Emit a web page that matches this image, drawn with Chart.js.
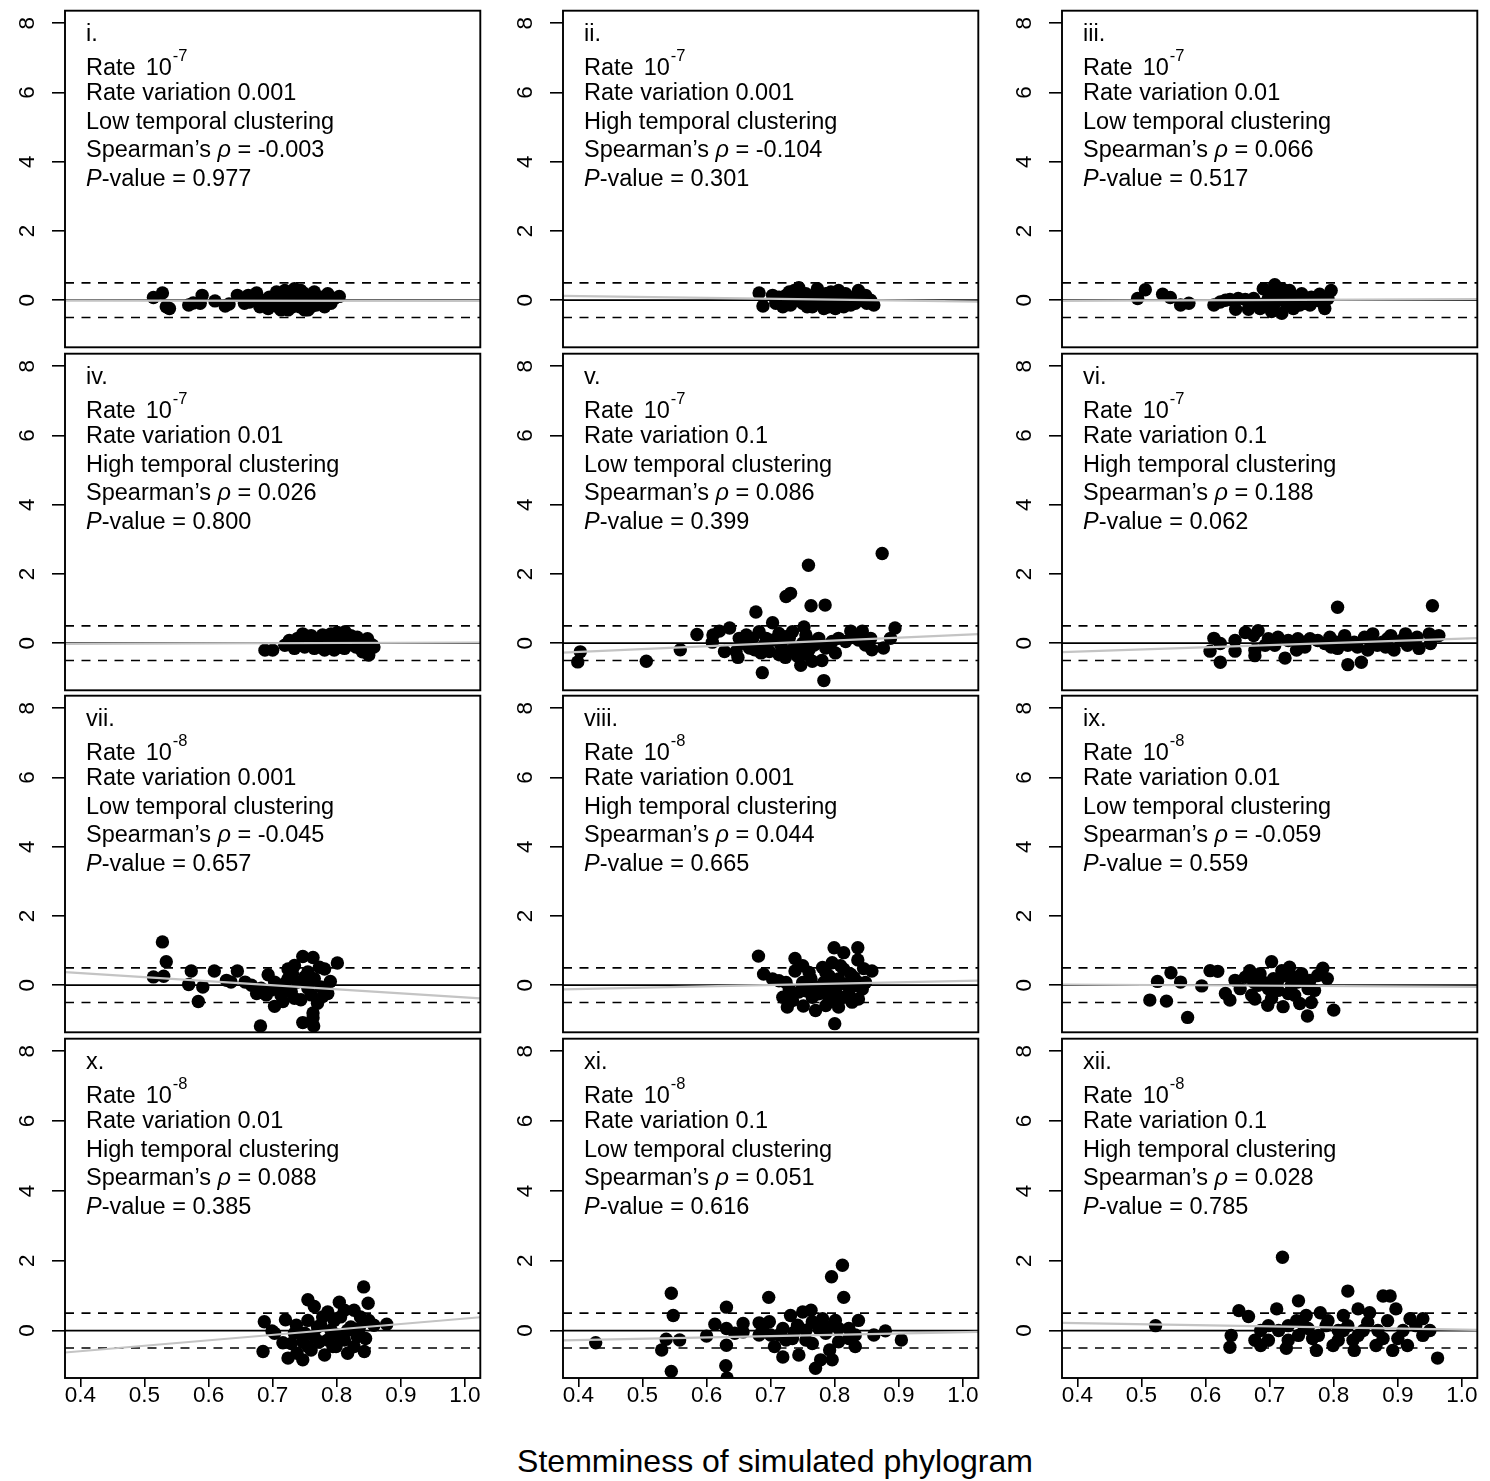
<!DOCTYPE html>
<html>
<head>
<meta charset="utf-8">
<script src="https://cdn.jsdelivr.net/npm/chart.js@4.4.0/dist/chart.umd.min.js"></script>
<style>
  body { margin: 0; background: #fff; }
  #wrap { position: relative; width: 1490px; height: 1481px; overflow: hidden; background: #fff; }
  #wrap canvas { position: absolute; }
  #xtitle { position: absolute; left: 275px; width: 1000px; top: 1442px; text-align: center;
            font: 32px "Liberation Sans", Arial, sans-serif; color: #000; line-height: 38px; }
</style>
</head>
<body>
<div id="wrap">
  <div id="xtitle">Stemminess of simulated phylogram</div>
</div>
<script>
// axis settings
const xTicks = [0.4, 0.5, 0.6, 0.7, 0.8, 0.9, 1.0];
const xTickLabels = ['0.4', '0.5', '0.6', '0.7', '0.8', '0.9', '1.0'];
const yTicks = [0, 2, 4, 6, 8];
const xRange = [0.376, 1.024];
const yRange = [-1.36, 8.36];
const refLevels = [0, 0.5, -0.5];

// panel labels
const panelIds = ['i.', 'ii.', 'iii.', 'iv.', 'v.', 'vi.', 'vii.', 'viii.', 'ix.', 'x.', 'xi.', 'xii.'];
const rateExp = ['-7', '-7', '-7', '-7', '-7', '-7', '-8', '-8', '-8', '-8', '-8', '-8'];
const rateVar = ['0.001', '0.001', '0.01', '0.01', '0.1', '0.1', '0.001', '0.001', '0.01', '0.01', '0.1', '0.1'];
const clustering = ['Low', 'High', 'Low', 'High', 'Low', 'High', 'Low', 'High', 'Low', 'High', 'Low', 'High'];
const rhoVals = ['-0.003', '-0.104', '0.066', '0.026', '0.086', '0.188', '-0.045', '0.044', '-0.059', '0.088', '0.051', '0.028'];
const pVals = ['0.977', '0.301', '0.517', '0.800', '0.399', '0.062', '0.657', '0.665', '0.559', '0.385', '0.616', '0.785'];

// regression line ends (at xRange[0] and xRange[1])
const fitLeft = [-0.01, 0.125, -0.02, -0.02, -0.27, -0.26, 0.38, -0.12, 0.02, -0.63, -0.28, 0.22];
const fitRight = [-0.02, -0.04, 0.03, 0.02, 0.26, 0.145, -0.38, 0.13, -0.05, 0.38, -0.04, 0.02];

// panel i
const xI = [0.514,0.528,0.534,0.539,0.569,0.576,0.590,0.587,0.610,0.626,0.632,0.645,0.656,0.662,0.675,0.680,0.688,0.695,0.700,0.706,0.711,0.719,0.724,0.729,0.734,0.738,0.742,0.750,0.755,0.757,0.765,0.768,0.775,0.781,0.786,0.791,0.796,0.804,0.682,0.693,0.708,0.713,0.721,0.731,0.739,0.747,0.755,0.763,0.770,0.778,0.783,0.664,0.672,0.703,0.726,0.744,0.760,0.750];
const yI = [0.08,0.21,-0.19,-0.24,-0.14,-0.08,0.14,-0.09,-0.02,-0.17,-0.11,0.14,-0.09,0.14,0.21,-0.19,0,0.09,-0.14,0.24,0.05,0.28,-0.28,-0.05,0.33,0.11,-0.19,0.19,-0.28,0,0.24,-0.14,0.09,-0.19,0.19,-0.09,0.05,0.11,-0.02,-0.24,-0.19,-0.28,0,-0.19,-0.05,-0.14,0.09,-0.05,0,-0.08,0.05,-0.05,0.05,-0.05,0.19,0.28,-0.19,-0.28];
// panel ii
const xII = [0.682,0.688,0.703,0.713,0.724,0.729,0.737,0.744,0.750,0.755,0.763,0.773,0.775,0.786,0.791,0.796,0.801,0.806,0.812,0.817,0.825,0.830,0.837,0.843,0.848,0.856,0.861,0.708,0.719,0.731,0.742,0.757,0.768,0.781,0.788,0.799,0.804,0.814,0.822,0.832,0.840,0.850,0.724,0.765,0.783,0.794,0.819,0.755,0.778,0.812];
const yII = [0.21,-0.17,0.14,0.09,-0.05,0.24,0.28,0.36,-0.09,0.19,0.09,0.33,-0.09,0.19,-0.19,0.05,-0.24,0.28,-0.05,0.19,-0.14,0.05,0.28,0,0.14,0,-0.14,-0.09,-0.19,-0.14,0,-0.19,0.05,0,-0.05,0.14,-0.09,-0.19,0.09,-0.09,0.14,-0.09,0.14,-0.19,-0.24,0.24,0,0,0.14,0.09];
// panel iii
const xIII = [0.494,0.506,0.533,0.545,0.561,0.574,0.613,0.623,0.631,0.638,0.647,0.651,0.662,0.667,0.675,0.685,0.690,0.698,0.703,0.708,0.713,0.719,0.724,0.726,0.731,0.737,0.742,0.750,0.755,0.763,0.765,0.773,0.778,0.786,0.791,0.796,0.680,0.693,0.708,0.716,0.734,0.747,0.757,0.781,0.700,0.719];
const yIII = [0.05,0.30,0.17,0.08,-0.14,-0.09,-0.14,-0.05,0,0.02,-0.26,0.05,0.02,-0.26,0.05,-0.24,0.33,0.05,-0.33,0.45,0.19,-0.38,0.28,-0.09,0.28,-0.24,0.09,0.19,-0.09,-0.14,0.09,0,0.17,-0.24,0.05,0.28,-0.09,-0.09,-0.09,0.05,0.05,-0.14,0.05,-0.05,0.19,0.33];
// panel iv
const xIV = [0.688,0.700,0.719,0.726,0.734,0.739,0.747,0.755,0.760,0.765,0.773,0.778,0.786,0.791,0.796,0.801,0.806,0.813,0.817,0.822,0.827,0.832,0.837,0.843,0.848,0.850,0.853,0.856,0.858,0.731,0.750,0.768,0.781,0.788,0.804,0.812,0.819,0.830,0.840,0.845,0.763,0.775,0.794,0.809,0.835,0.850];
const yIV = [-0.20,-0.20,-0.06,0.08,-0.15,0.14,0.27,0.03,0.22,-0.15,0.13,0.24,-0.06,0.27,-0.20,0.31,0.08,0.33,-0.06,0.22,0.03,0.17,-0.15,0.08,0.13,-0.34,-0.15,-0.06,-0.11,-0.01,-0.11,-0.01,-0.20,0.08,-0.11,-0.15,0.13,-0.11,-0.25,-0.01,0.14,0.03,0.17,-0.01,0.08,0.03];
// panel v
const xV = [0.874,0.759,0.724,0.731,0.763,0.785,0.677,0.703,0.636,0.620,0.610,0.585,0.609,0.559,0.506,0.403,0.399,0.687,0.747,0.783,0.765,0.780,0.723,0.649,0.628,0.646,0.894,0.887,0.876,0.858,0.856,0.843,0.825,0.837,0.848,0.806,0.801,0.791,0.775,0.752,0.755,0.734,0.713,0.682,0.662,0.657,0.672,0.675,0.690,0.703,0.716,0.729,0.739,0.750,0.760,0.770,0.786,0.796,0.817,0.832,0.698,0.729,0.757,0.685,0.667,0.713,0.742,0.768,0.724,0.693,0.651,0.750];
const yV = [2.59,2.25,1.35,1.44,1.08,1.10,0.90,0.59,0.44,0.35,0.24,0.25,0.03,-0.19,-0.52,-0.25,-0.54,-0.85,-0.64,-1.08,-0.52,-0.50,-0.41,-0.41,-0.24,-0.24,0.44,0.14,-0.14,-0.19,0.14,0.35,0.35,0.09,-0.05,0.14,-0.28,-0.05,0.14,0.47,0.24,0.33,0.28,0.33,0.24,0,0.14,-0.19,-0.05,0.09,-0.05,0.14,-0.14,0,-0.19,0.05,-0.14,0.05,0.05,0.19,-0.24,-0.24,-0.33,-0.28,-0.14,-0.33,-0.38,-0.05,0.19,0.14,0.14,-0.24];
// panel vi
const xVI = [0.613,0.623,0.607,0.623,0.646,0.646,0.662,0.675,0.682,0.677,0.677,0.698,0.708,0.724,0.729,0.742,0.744,0.755,0.763,0.775,0.794,0.796,0.806,0.817,0.822,0.843,0.832,0.848,0.853,0.861,0.868,0.876,0.889,0.894,0.905,0.912,0.920,0.930,0.933,0.949,0.951,0.964,0.786,0.804,0.822,0.837,0.858,0.881,0.915,0.713,0.693,0.755,0.884,0.806,0.954];
const yVI = [0.14,-0.01,-0.23,-0.55,0.08,-0.23,0.31,0.22,0.36,-0.20,-0.36,0.13,-0.06,-0.43,0.08,-0.20,0.13,0.03,0.13,0.08,0.17,-0.11,-0.15,0.22,-0.62,-0.55,0.03,0.17,-0.20,0.27,-0.06,0.03,0.22,-0.20,0.08,0.27,0.03,0.17,-0.15,0.27,-0.01,0.22,-0.01,0.03,-0.06,-0.11,-0.01,-0.11,-0.06,0.17,-0.06,-0.11,0.13,1.04,1.08];
// panel vii
const xVII = [0.528,0.534,0.514,0.530,0.573,0.569,0.591,0.584,0.609,0.628,0.635,0.645,0.657,0.667,0.675,0.681,0.693,0.703,0.698,0.713,0.724,0.734,0.747,0.763,0.755,0.763,0.747,0.764,0.763,0.770,0.781,0.801,0.790,0.786,0.775,0.760,0.744,0.729,0.719,0.708,0.739,0.750,0.755,0.734,0.716,0.682,0.690,0.724,0.765,0.778,0.703,0.731,0.773];
const yVII = [1.25,0.68,0.24,0.26,0.41,0.02,-0.05,-0.47,0.41,0.14,0.09,0.41,0.09,0,-0.24,-1.18,0.30,-0.61,-0.14,-0.28,0.47,0.57,0.83,0.80,0.38,-0.94,-1.08,-1.18,-0.80,-0.52,0.47,0.64,0.11,-0.24,-0.05,-0.28,-0.42,-0.19,0.05,-0.05,0.09,0.24,-0.09,-0.38,-0.47,-0.09,-0.28,0.19,0.19,-0.33,0.09,0.33,0.52];
// panel viii
const xVIII = [0.681,0.689,0.703,0.713,0.719,0.726,0.734,0.738,0.738,0.750,0.751,0.755,0.763,0.770,0.770,0.781,0.786,0.791,0.799,0.800,0.806,0.814,0.814,0.822,0.830,0.836,0.836,0.837,0.845,0.848,0.858,0.843,0.832,0.827,0.817,0.806,0.801,0.796,0.791,0.783,0.775,0.765,0.760,0.750,0.744,0.729,0.724,0.786,0.809,0.825,0.804,0.794,0.814,0.781,0.801,0.837];
const yVIII = [0.84,0.32,0.18,0.13,-0.35,-0.63,-0.44,0.77,0.41,0.56,-0.60,-0.16,0.18,-0.73,-0.06,0.51,-0.59,0.27,1.08,-1.11,-0.63,0.94,0.46,-0.25,0.22,1.08,0.73,-0.40,0.48,0.08,0.41,-0.11,-0.01,-0.49,0.03,0.18,-0.20,0.65,-0.40,0.08,-0.25,-0.35,0.37,0.08,-0.20,-0.11,0.08,0.37,0.56,0.32,-0.01,-0.06,-0.35,-0.11,-0.44,0.08];
// panel ix
const xIX = [0.513,0.525,0.539,0.546,0.561,0.572,0.594,0.607,0.619,0.631,0.638,0.646,0.654,0.662,0.669,0.672,0.677,0.685,0.690,0.697,0.703,0.706,0.713,0.721,0.724,0.731,0.734,0.739,0.747,0.750,0.755,0.759,0.765,0.770,0.775,0.783,0.790,0.800,0.682,0.698,0.713,0.729,0.744,0.760,0.703,0.675,0.719,0.763,0.739];
const yIX = [-0.43,0.11,-0.46,0.36,0.09,-0.93,-0.02,0.42,0.40,-0.24,-0.43,0.14,-0.10,0.23,0.42,-0.29,-0.40,0.33,0.09,-0.58,0.68,0.19,-0.15,-0.62,0.28,0.52,0,-0.29,-0.53,0.33,0.09,-0.89,-0.50,-0.15,0.28,0.49,0.19,-0.72,0,-0.10,0.14,-0.24,0.09,-0.10,-0.38,0.09,0.42,0.14,0.23];
// panel x
const xX = [0.687,0.685,0.699,0.716,0.720,0.724,0.737,0.738,0.747,0.747,0.755,0.765,0.755,0.760,0.765,0.775,0.781,0.786,0.791,0.799,0.804,0.806,0.812,0.817,0.822,0.827,0.832,0.837,0.842,0.843,0.845,0.849,0.850,0.858,0.878,0.734,0.750,0.770,0.786,0.796,0.801,0.817,0.827,0.729,0.755,0.778,0.812,0.835,0.794,0.773,0.703];
const yX = [0.25,-0.60,-0.01,-0.35,0.31,-0.79,0.15,-0.65,-0.84,-0.32,0.88,0.69,0.29,-0.56,-0.18,0.15,-0.70,0.53,0.01,-0.46,0.81,0.39,-0.27,-0.65,0.10,0.58,-0.18,0.39,1.25,-0.60,-0.23,0.78,0.29,0.15,0.18,-0.08,-0.08,0.10,-0.27,0.29,-0.13,0.01,-0.46,-0.37,-0.46,0.39,0.58,0.06,-0.46,-0.32,-0.08];
// panel xi
const xXI = [0.427,0.545,0.548,0.545,0.537,0.530,0.558,0.600,0.613,0.631,0.631,0.631,0.630,0.632,0.644,0.657,0.657,0.682,0.682,0.697,0.698,0.700,0.706,0.719,0.719,0.731,0.734,0.744,0.750,0.755,0.763,0.765,0.770,0.778,0.781,0.786,0.792,0.796,0.795,0.812,0.814,0.801,0.806,0.822,0.832,0.837,0.861,0.879,0.904,0.724,0.713,0.742,0.755,0.775,0.791,0.822,0.832,0.806,0.737,0.765,0.688];
const yXI = [-0.35,1.07,0.43,-1.17,-0.25,-0.56,-0.27,-0.16,0.18,0.67,0.06,-0.42,-1.01,-1.36,-0.08,0.20,-0.04,0.22,-0.13,0.95,0.25,-0.13,-0.46,-0.76,0.06,0.43,-0.23,-0.70,0.53,0.01,0.58,-0.37,-1.08,-0.84,0.34,-0.08,-0.56,-0.84,1.54,1.87,0.95,0.29,-0.32,0.06,-0.46,0.29,-0.13,-0.01,-0.27,-0.27,-0.13,0.15,-0.27,0.06,0.10,-0.23,-0.13,0.06,-0.04,0.25,0.01];
// panel xii
const xXII = [0.522,0.720,0.638,0.640,0.652,0.667,0.677,0.686,0.698,0.711,0.729,0.742,0.745,0.757,0.767,0.779,0.788,0.799,0.807,0.815,0.822,0.830,0.838,0.846,0.856,0.866,0.877,0.888,0.897,0.908,0.915,0.928,0.939,0.950,0.962,0.698,0.714,0.729,0.745,0.760,0.776,0.791,0.807,0.822,0.838,0.853,0.869,0.884,0.900,0.919,0.726,0.773,0.832,0.892,0.686,0.753,0.815,0.877,0.939];
const yXII = [0.14,2.10,-0.48,-0.14,0.57,0.40,-0.28,-0.43,0.14,0.62,-0.28,0.28,0.85,0.43,-0.23,0.51,0.14,-0.43,0,0.43,1.13,-0.28,0.62,0,0.51,-0.43,0.99,0.99,0.62,0,-0.43,0.14,-0.14,0,-0.79,-0.28,0,0.14,-0.14,0.06,-0.14,0.28,-0.28,0.14,-0.14,0.23,0,0.28,-0.23,0.34,-0.51,-0.57,-0.57,-0.57,0,0.14,0,-0.23,0.34];

const panelX = [xI, xII, xIII, xIV, xV, xVI, xVII, xVIII, xIX, xX, xXI, xXII];
const panelY = [yI, yII, yIII, yIV, yV, yVI, yVII, yVIII, yIX, yX, yXI, yXII];

// page layout
const colLeft = [65, 563, 1062];
const rowTop = [8, 351, 693, 1036];
const panelW = 418, panelH = 342;
const FONT = '"Liberation Sans", Arial, Helvetica, sans-serif';

function drawRuns(ctx, runs, x, y) {
    runs.forEach(function (r) {
        ctx.font = r.font;
        ctx.fillText(r.t, x, y + (r.dy || 0));
        x += ctx.measureText(r.t).width + (r.gap || 0);
    });
}

const panelDecor = {
    id: 'panelDecor',
    afterDraw(chart, args, opts) {
        const ctx = chart.ctx;
        const a = chart.chartArea;
        const k = opts.index;
        ctx.save();
        ctx.strokeStyle = '#000';
        ctx.lineWidth = 1.9;
        ctx.strokeRect(a.left, a.top, a.right - a.left, a.bottom - a.top);

        const f = '23.5px ' + FONT, fi = 'italic 23.5px ' + FONT, fs = '16.5px ' + FONT;
        const tx = a.left + 21;
        const base = [30, 64, 89, 118, 146, 175];
        ctx.fillStyle = '#000';
        ctx.textAlign = 'left';
        ctx.textBaseline = 'alphabetic';
        drawRuns(ctx, [{ t: panelIds[k], font: f }], tx, a.top + base[0]);
        drawRuns(ctx, [{ t: 'Rate', font: f, gap: 10 }, { t: '10', font: f, gap: 1 }, { t: rateExp[k], font: fs, dy: -14 }], tx, a.top + base[1]);
        drawRuns(ctx, [{ t: 'Rate variation ' + rateVar[k], font: f }], tx, a.top + base[2]);
        drawRuns(ctx, [{ t: clustering[k] + ' temporal clustering', font: f }], tx, a.top + base[3]);
        drawRuns(ctx, [{ t: 'Spearman\u2019s ', font: f }, { t: '\u03C1', font: fi }, { t: ' = ' + rhoVals[k], font: f }], tx, a.top + base[4]);
        drawRuns(ctx, [{ t: 'P', font: fi }, { t: '-value = ' + pVals[k], font: f }], tx, a.top + base[5]);
        ctx.restore();
    }
};

function makePanel(k) {
    const r = Math.floor(k / 3), c = k % 3;
    const bottom = r === 3;
    const axisW = 60, pad = 4, xAxisH = bottom ? 40 : 0;
    const cv = document.createElement('canvas');
    cv.width = axisW + panelW + pad;
    cv.height = pad + panelH + xAxisH + pad;
    cv.style.left = (colLeft[c] - axisW) + 'px';
    cv.style.top = (rowTop[r] - pad) + 'px';
    document.getElementById('wrap').appendChild(cv);

    const pts = panelX[k].map(function (v, i) { return { x: v, y: panelY[k][i] }; });
    const refSets = refLevels.map(function (v) {
        return {
            type: 'line',
            data: [{ x: xRange[0], y: v }, { x: xRange[1], y: v }],
            borderColor: '#000',
            borderWidth: 1.7,
            borderDash: v === 0 ? [] : [9, 7.5],
            pointRadius: 0
        };
    });

    new Chart(cv, {
        type: 'scatter',
        data: {
            datasets: [
                {
                    type: 'line',
                    data: [{ x: xRange[0], y: fitLeft[k] }, { x: xRange[1], y: fitRight[k] }],
                    borderColor: '#c4c4c4',
                    borderWidth: 2.2,
                    pointRadius: 0
                }
            ].concat(refSets).concat([
                {
                    data: pts,
                    backgroundColor: '#000',
                    borderWidth: 0,
                    pointRadius: 6.7
                }
            ])
        },
        options: {
            responsive: false,
            animation: false,
            devicePixelRatio: 1,
            events: [],
            layout: { padding: { top: pad, right: pad, bottom: pad, left: 0 } },
            plugins: {
                legend: { display: false },
                tooltip: { enabled: false },
                panelDecor: { index: k }
            },
            scales: {
                x: {
                    type: 'linear',
                    min: xRange[0],
                    max: xRange[1],
                    display: bottom,
                    afterBuildTicks: function (s) { s.ticks = xTicks.map(function (v) { return { value: v }; }); },
                    afterFit: function (s) {
                        s.height = xAxisH;
                        s.paddingLeft = 0; s.paddingRight = 0;
                    },
                    grid: { display: true, drawOnChartArea: false, drawTicks: true, tickLength: 9, color: '#000', lineWidth: 1.6 },
                    border: { display: false },
                    ticks: {
                        minRotation: 0, maxRotation: 0, padding: -5, color: '#000',
                        font: { family: FONT, size: 22.5 },
                        callback: function (v, i) { return xTickLabels[i]; }
                    }
                },
                y: {
                    type: 'linear',
                    min: yRange[0],
                    max: yRange[1],
                    afterBuildTicks: function (s) { s.ticks = yTicks.map(function (v) { return { value: v }; }); },
                    afterFit: function (s) {
                        s.width = axisW;
                        s.paddingTop = 0; s.paddingBottom = 0;
                    },
                    grid: { display: true, drawOnChartArea: false, drawTicks: true, tickLength: 13, color: '#000', lineWidth: 1.6 },
                    border: { display: false },
                    ticks: {
                        minRotation: 90, maxRotation: 90, crossAlign: 'center', padding: 18, color: '#000',
                        font: { family: FONT, size: 22.5 }
                    }
                }
            }
        },
        plugins: [panelDecor]
    });
}

for (let k = 0; k < 12; k++) makePanel(k);
</script>
</body>
</html>
